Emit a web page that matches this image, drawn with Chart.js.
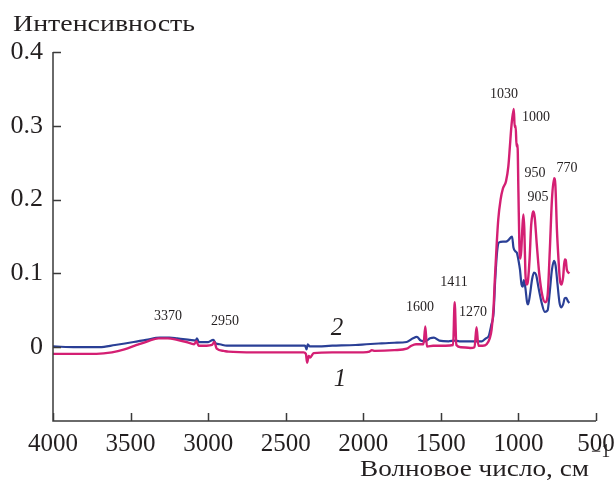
<!DOCTYPE html>
<html>
<head>
<meta charset="utf-8">
<script src="https://cdn.jsdelivr.net/npm/chart.js@4/dist/chart.umd.min.js"></script>
<style>
  html, body { margin: 0; padding: 0; background: #fff; }
  #wrap { width: 615px; height: 481px; position: relative; }
</style>
</head>
<body>
<div id="wrap"><canvas id="c" width="615" height="481"></canvas></div>
<script>
// IR spectra: wavenumber (cm^-1) and intensity for samples 1 and 2
const wn1 = [4000, 3850, 3720, 3620, 3540, 3460, 3390, 3320, 3260, 3200, 3140, 3090, 3075, 3062, 3010, 2975, 2960, 2945, 2900, 2870, 2700, 2500, 2385, 2370, 2362, 2352, 2342, 2320, 2200, 2000, 1960, 1945, 1925, 1800, 1720, 1690, 1660, 1612, 1600, 1590, 1550, 1470, 1421, 1411, 1400, 1370, 1310, 1283, 1270, 1258, 1230, 1205, 1185, 1173, 1160, 1152, 1140, 1130, 1115, 1100, 1080, 1065, 1055, 1045, 1030, 1024, 1018, 1012, 1006, 1000, 994, 988, 982, 975, 968, 962, 955, 948, 940, 928, 918, 908, 903, 895, 882, 866, 846, 828, 812, 798, 784, 770, 762, 752, 742, 732, 722, 712, 702, 695, 688, 672];
const int1 = [-0.009, -0.009, -0.009, -0.007, -0.003, 0.003, 0.008, 0.012, 0.012, 0.010, 0.007, 0.004, 0.008, 0.002, 0.002, 0.003, 0.007, -0.002, -0.005, -0.006, -0.007, -0.007, -0.007, -0.009, -0.021, -0.012, -0.014, -0.008, -0.007, -0.007, -0.006, -0.004, -0.005, -0.004, -0.002, 0.002, 0.004, 0.004, 0.028, 0.001, 0.002, 0.002, 0.003, 0.061, 0.003, 0.000, -0.001, 0.000, 0.027, 0.002, 0.002, 0.004, 0.012, 0.024, 0.055, 0.092, 0.140, 0.173, 0.200, 0.215, 0.225, 0.245, 0.272, 0.300, 0.323, 0.298, 0.300, 0.272, 0.275, 0.210, 0.140, 0.120, 0.130, 0.160, 0.180, 0.160, 0.100, 0.085, 0.088, 0.120, 0.165, 0.182, 0.184, 0.176, 0.140, 0.100, 0.070, 0.061, 0.070, 0.130, 0.200, 0.229, 0.220, 0.160, 0.120, 0.090, 0.085, 0.095, 0.119, 0.118, 0.105, 0.100];

const wn2 = [4000, 3850, 3700, 3600, 3480, 3400, 3310, 3250, 3200, 3120, 3080, 3072, 3060, 3000, 2967, 2950, 2925, 2880, 2600, 2400, 2375, 2366, 2358, 2345, 2320, 2200, 2050, 1980, 1900, 1800, 1720, 1680, 1655, 1630, 1600, 1570, 1545, 1510, 1450, 1411, 1380, 1300, 1235, 1210, 1192, 1175, 1160, 1150, 1138, 1125, 1100, 1080, 1065, 1041, 1032, 1020, 1010, 1000, 990, 980, 972, 965, 955, 945, 938, 925, 912, 900, 886, 870, 850, 830, 812, 798, 784, 770, 760, 748, 735, 725, 712, 702, 692, 680, 672];
const int2 = [0.001, 0.000, 0.000, 0.003, 0.007, 0.010, 0.013, 0.013, 0.012, 0.010, 0.009, 0.012, 0.007, 0.007, 0.010, 0.005, 0.004, 0.002, 0.002, 0.002, 0.002, -0.003, 0.004, 0.001, 0.001, 0.002, 0.003, 0.004, 0.005, 0.006, 0.007, 0.012, 0.014, 0.009, 0.008, 0.012, 0.013, 0.009, 0.008, 0.009, 0.008, 0.008, 0.008, 0.012, 0.015, 0.030, 0.047, 0.090, 0.128, 0.142, 0.143, 0.143, 0.145, 0.150, 0.135, 0.130, 0.128, 0.118, 0.105, 0.085, 0.082, 0.091, 0.080, 0.062, 0.058, 0.072, 0.092, 0.101, 0.098, 0.080, 0.060, 0.048, 0.050, 0.075, 0.105, 0.117, 0.110, 0.085, 0.060, 0.054, 0.058, 0.066, 0.067, 0.062, 0.060];

// Axis ticks
const xTicks = [4000, 3500, 3000, 2500, 2000, 1500, 1000, 500];
const yTicks = [0, 0.1, 0.2, 0.3, 0.4];

// Band labels (text, wavenumber, intensity where the label sits)
const bandText = ['3370', '2950', '1600', '1411', '1270', '1030', '1000', '950', '905', '770'];
const bandWn   = [3259, 2891, 1634, 1415, 1293, 1093, 887, 893, 874, 687];
const bandY    = [0.042, 0.035, 0.054, 0.088, 0.047, 0.343, 0.312, 0.236, 0.203, 0.242];

// Curve numbers
const curveText = ['1', '2'];
const curveWn   = [2150, 2169];
const curveY    = [-0.043, 0.026];

const SERIF = '"Liberation Serif", "DejaVu Serif", serif';
const AXIS_COLOR = '#3a3a3a';
const TEXT_COLOR = '#231f20';

const toPoints = (xs, ys) => xs.map((x, i) => ({ x: x, y: ys[i] }));

// draws text stretched horizontally to a given width (titles are set slightly wide)
function wideText(ctx, text, x, y, width) {
  const w = ctx.measureText(text).width;
  ctx.save();
  ctx.translate(x, y);
  ctx.scale(width / w, 1);
  ctx.textAlign = 'left';
  ctx.fillText(text, 0, 0);
  ctx.restore();
}

const decorations = {
  id: 'decorations',
  afterDraw(chart) {
    const ctx = chart.ctx;
    const xs = chart.scales.x, ys = chart.scales.y;
    const x0 = xs.getPixelForValue(4000), x1 = xs.getPixelForValue(500);
    const y0 = ys.getPixelForValue(-0.1), y1 = ys.getPixelForValue(0.4);
    ctx.save();
    // axis lines and inward tick marks
    ctx.strokeStyle = AXIS_COLOR;
    ctx.lineWidth = 1.5;
    ctx.beginPath();
    ctx.moveTo(x0, y1);
    ctx.lineTo(x0, y0);
    ctx.lineTo(x1, y0);
    xTicks.forEach(v => {
      const px = Math.round(xs.getPixelForValue(v)) + 0.5;
      ctx.moveTo(px, y0);
      ctx.lineTo(px, y0 - 8);
    });
    yTicks.forEach(v => {
      const py = Math.round(ys.getPixelForValue(v)) + 0.5;
      ctx.moveTo(x0, py);
      ctx.lineTo(x0 + 8, py);
    });
    ctx.stroke();

    ctx.fillStyle = TEXT_COLOR;
    // band labels
    ctx.font = '14px ' + SERIF;
    ctx.textAlign = 'center';
    ctx.textBaseline = 'middle';
    bandText.forEach((t, i) => {
      ctx.fillText(t, xs.getPixelForValue(bandWn[i]), ys.getPixelForValue(bandY[i]));
    });
    // curve numbers
    ctx.font = 'italic 25px ' + SERIF;
    curveText.forEach((t, i) => {
      ctx.fillText(t, xs.getPixelForValue(curveWn[i]), ys.getPixelForValue(curveY[i]));
    });

    // y axis title
    ctx.font = '24px ' + SERIF;
    ctx.textBaseline = 'alphabetic';
    wideText(ctx, 'Интенсивность', 13, 31, 182);

    // x axis title with superscript
    wideText(ctx, 'Волновое число, см', 360, 476, 229);
    ctx.font = '18px ' + SERIF;
    ctx.textAlign = 'left';
    ctx.fillText('\u22121', 591, 457);
    ctx.restore();
  }
};

new Chart(document.getElementById('c'), {
  type: 'line',
  data: {
    datasets: [
      {
        label: '1',
        data: toPoints(wn1, int1),
        borderColor: '#d41f73',
        borderWidth: 2.4,
        pointRadius: 0,
        cubicInterpolationMode: 'monotone',
        fill: false
      },
      {
        label: '2',
        data: toPoints(wn2, int2),
        borderColor: '#2a3f96',
        borderWidth: 2.2,
        pointRadius: 0,
        cubicInterpolationMode: 'monotone',
        fill: false
      }
    ]
  },
  options: {
    responsive: false,
    animation: false,
    layout: { padding: { left: 0, top: 52, right: 19, bottom: 0 } },
    plugins: { legend: { display: false }, tooltip: { enabled: false } },
    scales: {
      x: {
        type: 'linear',
        reverse: true,
        min: 500,
        max: 4000,
        afterBuildTicks: s => { s.ticks = xTicks.map(v => ({ value: v })); },
        afterFit: s => { s.height = 60; s.paddingLeft = 0; s.paddingRight = 0; },
        grid: { display: false, drawTicks: false },
        border: { display: false },
        ticks: {
          color: TEXT_COLOR,
          font: { family: SERIF, size: 25 },
          padding: 8,
          maxRotation: 0,
          autoSkip: false,
          callback: v => String(v)
        }
      },
      y: {
        type: 'linear',
        min: -0.1,
        max: 0.4,
        afterBuildTicks: s => { s.ticks = yTicks.map(v => ({ value: v })); },
        afterFit: s => { s.width = 53; s.paddingTop = 0; s.paddingBottom = 0; },
        grid: { display: false, drawTicks: false },
        border: { display: false },
        ticks: {
          color: TEXT_COLOR,
          font: { family: SERIF, size: 26 },
          padding: 10,
          autoSkip: false,
          callback: v => (v === 0 ? '0' : v.toFixed(1))
        }
      }
    }
  },
  plugins: [decorations]
});
</script>
</body>
</html>
